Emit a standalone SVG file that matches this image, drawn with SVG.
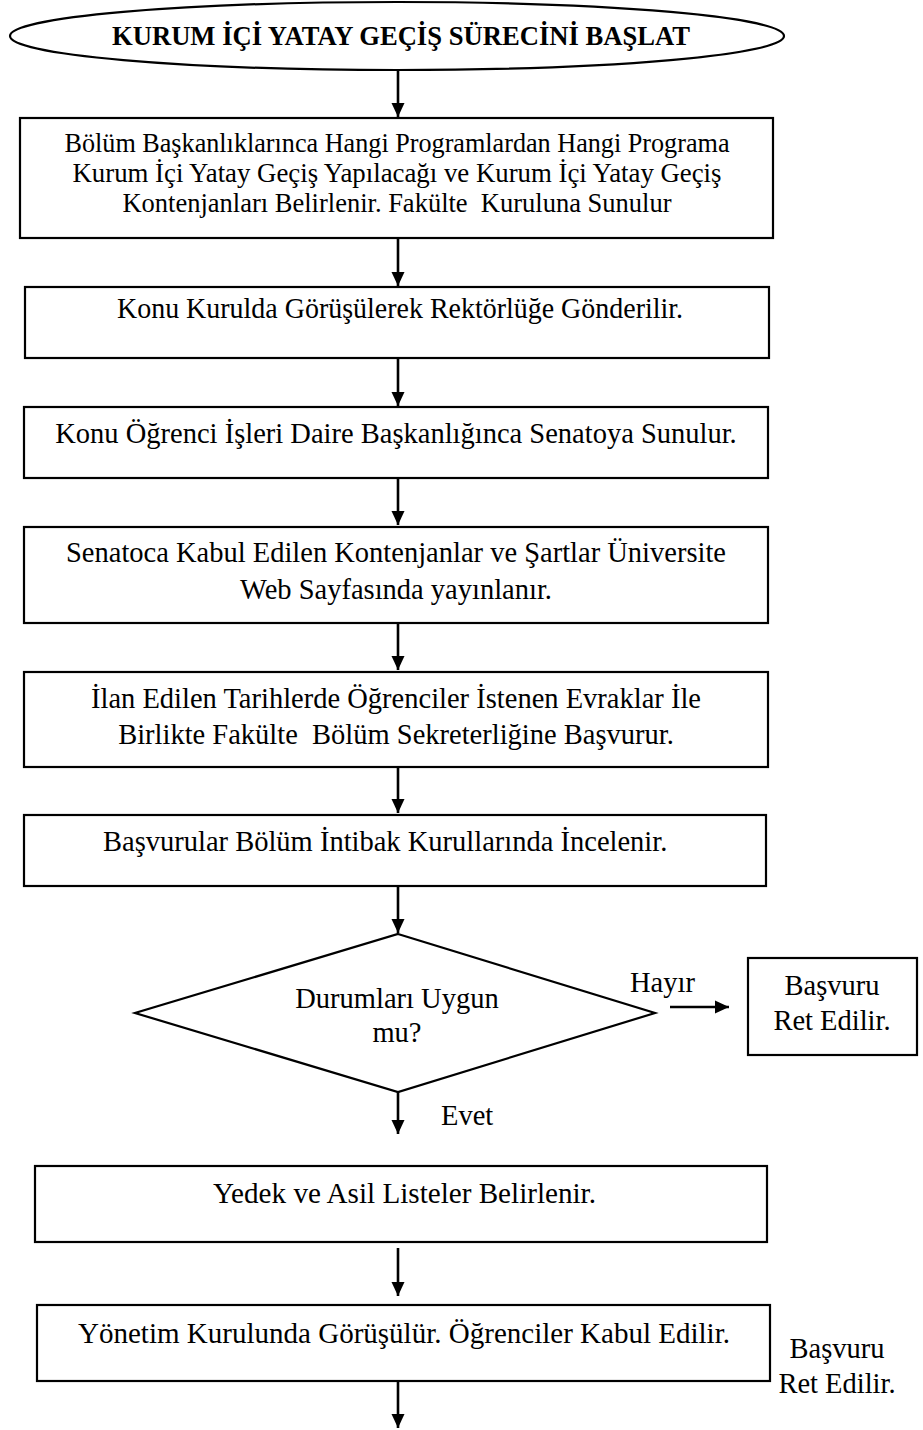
<svg xmlns="http://www.w3.org/2000/svg" width="923" height="1430" viewBox="0 0 923 1430">
  <style>
    .shape { fill: #ffffff; stroke: #000000; stroke-width: 2.2; }
    .txt { font-family: "Liberation Serif", "Times New Roman", serif; font-size: 28.5px; fill: #000000; }
    .sm { font-size: 26.5px; }
    .title { font-family: "Liberation Serif", "Times New Roman", serif; font-size: 28px; font-weight: bold; fill: #000000; }
    .mid { text-anchor: middle; }
    .conn { stroke: #000000; stroke-width: 2.6; fill: none; marker-end: url(#head); }
  </style>
  <defs>
    <marker id="head" markerUnits="userSpaceOnUse" markerWidth="14" markerHeight="16" viewBox="0 0 14 16" refX="14" refY="8" orient="auto">
      <path d="M0,1.5 L14,8 L0,14.5 Z" fill="#000000"/>
    </marker>
  </defs>
  <rect width="923" height="1430" fill="#ffffff"/>

  <!-- connectors -->
  <g id="connectors">
    <line class="conn" x1="398" y1="70" x2="398" y2="117"/>
    <line class="conn" x1="398" y1="238" x2="398" y2="286"/>
    <line class="conn" x1="398" y1="358" x2="398" y2="406"/>
    <line class="conn" x1="398" y1="478" x2="398" y2="525"/>
    <line class="conn" x1="398" y1="623" x2="398" y2="670"/>
    <line class="conn" x1="398" y1="767" x2="398" y2="813"/>
    <line class="conn" x1="398" y1="886" x2="398" y2="933"/>
    <line class="conn" x1="398" y1="1092" x2="398" y2="1134"/>
    <line class="conn" x1="398" y1="1248" x2="398" y2="1296"/>
    <line class="conn" x1="398" y1="1381" x2="398" y2="1428"/>
    <line class="conn" x1="670" y1="1007" x2="729" y2="1007"/>
  </g>

  <g id="start">
    <ellipse class="shape" cx="397" cy="36" rx="387" ry="34"/>
    <text class="title mid" x="401" y="45" textLength="578" lengthAdjust="spacingAndGlyphs">KURUM İÇİ YATAY GEÇİŞ SÜRECİNİ BAŞLAT</text>
  </g>

  <g id="step1">
    <rect class="shape" x="20" y="118" width="753" height="120"/>
    <text class="txt sm mid" x="397" y="152" textLength="665" lengthAdjust="spacingAndGlyphs">Bölüm Başkanlıklarınca Hangi Programlardan Hangi Programa</text>
    <text class="txt sm mid" x="397" y="182" textLength="649" lengthAdjust="spacingAndGlyphs">Kurum İçi Yatay Geçiş Yapılacağı ve Kurum İçi Yatay Geçiş</text>
    <text class="txt sm mid" x="397" y="212" xml:space="preserve">Kontenjanları Belirlenir. Fakülte  Kuruluna Sunulur</text>
  </g>

  <g id="step2">
    <rect class="shape" x="25" y="287" width="744" height="71"/>
    <text class="txt mid" x="400" y="318" textLength="566" lengthAdjust="spacingAndGlyphs">Konu Kurulda Görüşülerek Rektörlüğe Gönderilir.</text>
  </g>

  <g id="step3">
    <rect class="shape" x="24" y="407" width="744" height="71"/>
    <text class="txt mid" x="396" y="443">Konu Öğrenci İşleri Daire Başkanlığınca Senatoya Sunulur.</text>
  </g>

  <g id="step4">
    <rect class="shape" x="24" y="527" width="744" height="96"/>
    <text class="txt mid" x="396" y="562">Senatoca Kabul Edilen Kontenjanlar ve Şartlar Üniversite</text>
    <text class="txt mid" x="396" y="599">Web Sayfasında yayınlanır.</text>
  </g>

  <g id="step5">
    <rect class="shape" x="24" y="672" width="744" height="95"/>
    <text class="txt mid" x="396" y="708">İlan Edilen Tarihlerde Öğrenciler İstenen Evraklar İle</text>
    <text class="txt mid" x="396" y="744" xml:space="preserve">Birlikte Fakülte  Bölüm Sekreterliğine Başvurur.</text>
  </g>

  <g id="step6">
    <rect class="shape" x="24" y="815" width="742" height="71"/>
    <text class="txt" x="103" y="851">Başvurular Bölüm İntibak Kurullarında İncelenir.</text>
  </g>

  <g id="decision">
    <polygon class="shape" points="398,934 655,1013 398,1092 135,1013"/>
    <text class="txt mid" x="397" y="1008">Durumları Uygun</text>
    <text class="txt mid" x="397" y="1042">mu?</text>
  </g>

  <g id="label-no">
    <text class="txt" x="630" y="992">Hayır</text>
  </g>

  <g id="reject">
    <rect class="shape" x="748" y="958" width="169" height="97"/>
    <text class="txt mid" x="832" y="995">Başvuru</text>
    <text class="txt mid" x="832" y="1030">Ret Edilir.</text>
  </g>

  <g id="label-yes">
    <text class="txt" x="441" y="1125">Evet</text>
  </g>

  <g id="step7">
    <rect class="shape" x="35" y="1166" width="732" height="76"/>
    <text class="txt" x="213" y="1203" textLength="383" lengthAdjust="spacingAndGlyphs">Yedek ve Asil Listeler Belirlenir.</text>
  </g>

  <g id="step8">
    <rect class="shape" x="37" y="1305" width="733" height="76"/>
    <text class="txt" x="78" y="1343" textLength="652" lengthAdjust="spacingAndGlyphs">Yönetim Kurulunda Görüşülür. Öğrenciler Kabul Edilir.</text>
  </g>

  <g id="reject-note">
    <text class="txt mid" x="837" y="1358">Başvuru</text>
    <text class="txt mid" x="837" y="1393">Ret Edilir.</text>
  </g>
</svg>
